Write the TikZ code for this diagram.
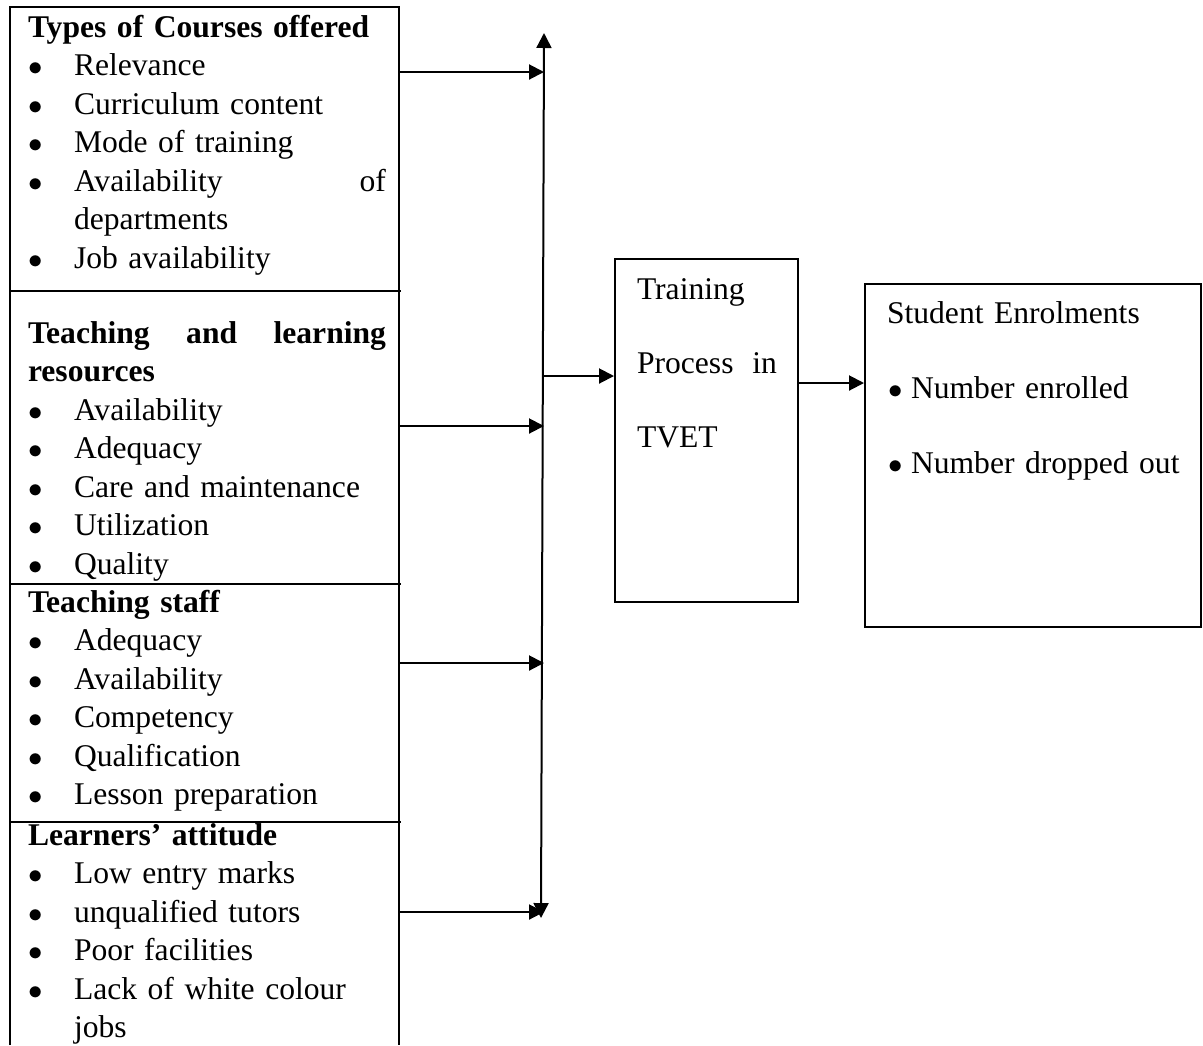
\documentclass[tikz,border=0pt]{standalone}
\usepackage{fontspec}
\setmainfont{Liberation Serif}
\usetikzlibrary{arrows.meta}

\newcommand\bul{\makebox[23pt][l]{$\bullet$}}
\newcommand\sbul{\makebox[12pt][l]{\hspace{0.5pt}$\bullet$}}

\begin{document}
\begin{tikzpicture}[x=0.5pt, y=-0.5pt, line width=1pt,
    >={Triangle[length=7.5pt,width=7.5pt]},
    every node/.style={font=\fontsize{15.8}{19.25}\selectfont, inner sep=0pt},
    sec/.style={anchor=base west, text width=179pt, align=left},
    box/.style={draw, anchor=north west, minimum height=171.5pt}]
  \useasboundingbox (0,0) rectangle (1203,1045);
  % Faktorer (venstre ramme)
  \draw (10,1045) -- (10,7) -- (399,7) -- (399,1045);
  \draw (10,291) -- (401,291);
  \draw (10,584) -- (401,584);
  \draw (10,822) -- (401,822);
  \node[sec] (courses) at (27,37) {\textbf{Types of Courses offered}\\
    \bul Relevance\\ \bul Curriculum content\\ \bul Mode of training\\
    \bul Availability\hfill of\\ \hspace*{23pt}departments\\ \bul Job availability};
  \node[sec] (resources) at (27,343) {\textbf{Teaching\hfill and\hfill learning}\\
    \textbf{resources}\\ \bul Availability\\ \bul Adequacy\\
    \bul Care and maintenance\\ \bul Utilization\\ \bul Quality};
  \node[sec] (staff) at (27,612) {\textbf{Teaching staff}\\
    \bul Adequacy\\ \bul Availability\\ \bul Competency\\
    \bul Qualification\\ \bul Lesson preparation};
  \node[sec] (learners) at (27,845) {\textbf{Learners’ attitude}\\
    \bul Low entry marks\\ \bul unqualified tutors\\ \bul Poor facilities\\
    \bul Lack of white colour\\ \hspace*{23pt}jobs};
  % Samleskinne
  \coordinate (bustop) at (544,33);
  \coordinate (busbot) at (541,918);
  \draw[<->] (bustop) -- (busbot);
  \coordinate (p1) at (399,72);
  \coordinate (p2) at (399,426);
  \coordinate (p3) at (399,663);
  \coordinate (p4) at (399,912);
  \foreach \p in {p1,p2,p3,p4}
    \draw[->] (\p) -- (\p -| bustop);
  % Treningsprosess
  \node[box, minimum width=91.5pt] (train) at (614,258) {};
  \node[anchor=base west, text width=70pt, align=left,
    font=\fontsize{15.8}{37}\selectfont] (traintxt) at (636,299)
    {Training\\ Process\hfill in\\ TVET};
  \coordinate (busout) at (543,376);
  \draw[->] (busout) -- (busout -| train.west);
  % Studentopptak
  \node[box, minimum width=168pt] (stud) at (864,283) {};
  \node[anchor=base west, text width=155pt, align=left,
    font=\fontsize{15.8}{37.5}\selectfont] (studtxt) at (886,323)
    {Student Enrolments\\ \sbul Number enrolled\\ \sbul Number dropped out};
  \coordinate (trainout) at (797,383);
  \draw[->] (trainout) -- (trainout -| stud.west);
\end{tikzpicture}
\end{document}
